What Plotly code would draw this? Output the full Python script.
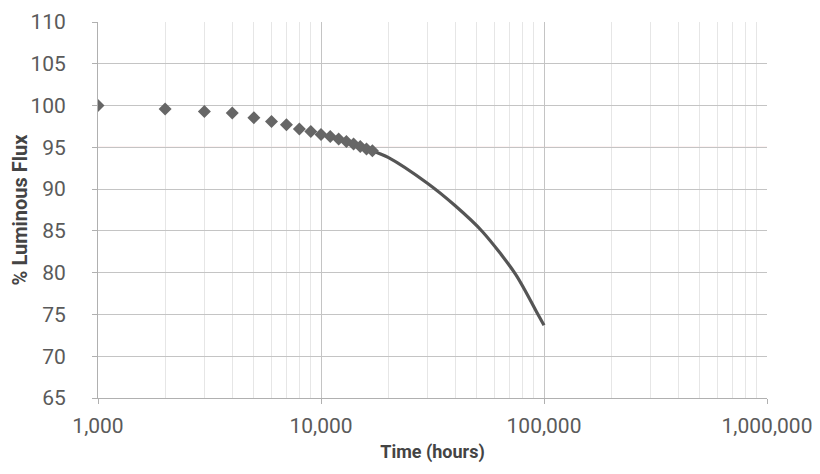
import plotly.graph_objects as go

# Measured points (diamonds)
t_points = [1000, 2000, 3000, 4000, 5000, 6000, 7000, 8000, 9000, 10000,
            11000, 12000, 13000, 14000, 15000, 16000, 17000]
flux_points = [100.0, 99.6, 99.3, 99.1, 98.55, 98.1, 97.7, 97.2, 96.9, 96.55,
               96.3, 96.0, 95.7, 95.4, 95.1, 94.8, 94.6]

# Projected curve
t_curve = [17000, 20000, 30000, 40000, 53000, 74600, 94400, 100000]
flux_curve = [94.6, 93.8, 90.7, 88.0, 84.9, 79.8, 74.9, 73.7]

x_tickvals = [1000, 10000, 100000, 1000000]
x_ticktext = ["1,000", "10,000", "100,000", "1,000,000"]
y_tickvals = [65, 70, 75, 80, 85, 90, 95, 100, 105, 110]
minor_vals = [m * 10 ** e for e in (3, 4, 5) for m in range(2, 10)]

fig = go.Figure()
fig.add_trace(go.Scatter(
    x=t_curve, y=flux_curve, mode="lines",
    line=dict(color="#555555", width=3.2, shape="spline", smoothing=0.8),
    showlegend=False, hoverinfo="skip"))
fig.add_trace(go.Scatter(
    x=t_points, y=flux_points, mode="markers",
    marker=dict(symbol="diamond", size=10, color="#666666"),
    showlegend=False))

fig.add_shape(type="line", xref="paper", x0=0, x1=1, yref="y", y0=95, y1=95,
              line=dict(color="#f2b8b8", width=1), layer="below")

# page body has an 8px margin, so the figure is sized/offset accordingly
fig.update_layout(
    width=812, height=466,
    margin=dict(l=90, r=53, t=14, b=76),
    paper_bgcolor="white", plot_bgcolor="white",
    font=dict(family="Roboto, Arial, sans-serif", color="#444444"),
)
fig.update_xaxes(
    type="log", range=[3, 6], automargin=False,
    tickvals=x_tickvals, ticktext=x_ticktext,
    tickfont=dict(size=21, color="#5a5a5a"),
    ticklabelstandoff=4,
    showgrid=True, gridcolor="#c4c4c4", gridwidth=1,
    minor=dict(tickvals=minor_vals, showgrid=True, gridcolor="#e6e6e6", ticks=""),
    showline=True, linecolor="#b0b0b0", ticks="outside", ticklen=5, tickcolor="#b0b0b0",
    zeroline=False,
    title=dict(text="<b>Time (hours)</b>", font=dict(size=18, color="#444444"), standoff=8),
)
fig.update_yaxes(
    range=[65, 110], tickvals=y_tickvals, automargin=False,
    tickfont=dict(size=21, color="#5a5a5a"),
    ticklabelstandoff=22,
    showgrid=True, gridcolor="#c4c4c4", gridwidth=1,
    showline=True, linecolor="#b0b0b0", ticks="outside", ticklen=5, tickcolor="#b0b0b0",
    zeroline=False,
    title=dict(text="<b>% Luminous Flux</b>", font=dict(size=20, color="#444444"), standoff=6),
)

fig.write_html("out.html")
